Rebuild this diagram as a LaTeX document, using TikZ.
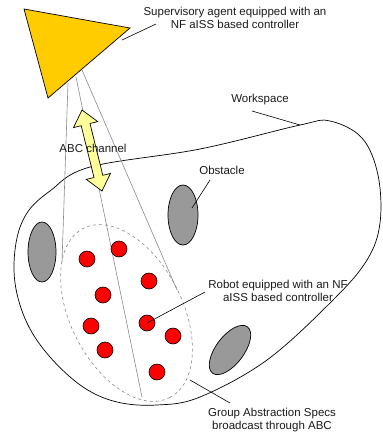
\documentclass[tikz,border=0pt]{standalone}
\usepackage{fontspec}
\setmainfont{Liberation Sans}
\definecolor{agentgold}{HTML}{FFCC00}
\definecolor{chanyellow}{HTML}{FFFF99}
\definecolor{obsgray}{HTML}{999999}
\definecolor{robred}{HTML}{FF0000}
\definecolor{linegray}{HTML}{8A8A8A}
\definecolor{txt}{HTML}{1A1A1A}
\begin{document}
\begin{tikzpicture}[x=1pt,y=-1pt,
  lbl/.style={text=txt,font=\fontsize{11.5}{13.5}\selectfont,align=center,inner sep=0pt},
  leader/.style={draw=black,line width=0.6pt},
  sight/.style={draw=linegray,line width=0.6pt},
  obstacle/.style={draw=black,fill=obsgray,line width=0.7pt},
  robot/.style={circle,draw=black,fill=robred,minimum size=16pt,inner sep=0pt,line width=0.6pt},
  group/.style={draw=linegray,dashed,line width=0.6pt},
  wsline/.style={draw=black,line width=0.7pt}]
\useasboundingbox (0,0) rectangle (383,437);

% workspace
\draw[wsline] plot[smooth cycle,tension=0.6] coordinates {
 (90,167) (200,149) (300,125) (330,121) (362,138) (378,175) (380,223)
 (367,260) (333,300) (267,360) (200,397) (157,405) (117,402) (83,387)
 (50,357) (27,323) (15,283) (16,243) (27,213) (50,191)};
\coordinate (wsPt) at (300,125);

% sight lines
\coordinate (s1a) at (68,83);  \coordinate (s1b) at (62,262);
\coordinate (s2a) at (76,77);  \coordinate (s2b) at (142,397);
\coordinate (s3a) at (82,70);  \coordinate (s3b) at (177,290);
\draw[sight] (s1a) -- (s1b);
\draw[sight] (s2a) -- (s2b);
\draw[sight] (s3a) -- (s3b);

% group dashed ellipse
\coordinate (grpC) at (126.5,313);
\draw[group] (grpC) ellipse[x radius=95pt,y radius=56pt,rotate=-63];
\coordinate (grpPt) at (190,380);

% obstacles
\coordinate (ob1) at (183,215);
\coordinate (ob2) at (42,252);
\coordinate (ob3) at (230,350);
\draw[obstacle] (ob1) ellipse[x radius=15pt,y radius=30pt];
\draw[obstacle] (ob2) ellipse[x radius=14pt,y radius=30pt];
\draw[obstacle] (ob3) ellipse[x radius=29pt,y radius=14pt,rotate=53];
\coordinate (obPt) at (192,208);

% robots
\node[robot] (r1) at (87,259) {};
\node[robot] (r2) at (119,249) {};
\node[robot] (r3) at (149,281) {};
\node[robot] (r4) at (103,295) {};
\node[robot] (r5) at (91,326) {};
\node[robot] (r6) at (147,323) {};
\node[robot] (r7) at (173,336) {};
\node[robot] (r8) at (105,350) {};
\node[robot] (r9) at (157,372) {};

% supervisory agent
\coordinate (t1) at (24,9);
\coordinate (t2) at (130,28);
\coordinate (t3) at (48,98);
\draw[fill=agentgold,line width=0.7pt] (t1) -- (t2) -- (t3) -- cycle;
\coordinate (agPt) at (122,40);

% ABC channel double arrow
\draw[fill=chanyellow,line width=0.7pt,line join=miter]
 (82,110) -- (97.7,121.6) -- (90.0,123.5) -- (102.8,175.3) -- (110.5,173.4)
 -- (102,191) -- (86.3,179.4) -- (94.0,177.5) -- (81.2,125.7) -- (73.5,127.6) -- cycle;

% labels
\node[lbl] (agLbl) at (235,18) {Supervisory agent equipped with an\\NF aISS based controller};
\node[lbl] (wsLbl) at (260,100) {Workspace};
\node[lbl] (chLbl) at (93,148) {ABC channel};
\node[lbl] (obLbl) at (222,170) {Obstacle};
\node[lbl] (rbLbl) at (278,291) {Robot equipped with an NF\\aISS based controller};
\node[lbl] (grLbl) at (272,420) {Group Abstraction Specs\\broadcast through ABC};

% leaders
\coordinate (agEnd) at (156,24);
\coordinate (wsEnd) at (252,111);
\coordinate (obEnd) at (210,180);
\coordinate (rbEnd) at (205,292);
\coordinate (grEnd) at (230,403);
\draw[leader] (agPt) -- (agEnd);
\draw[leader] (wsEnd) -- (wsPt);
\draw[leader] (obEnd) -- (obPt);
\draw[leader] (r6.center) -- (rbEnd);
\draw[leader] (grpPt) -- (grEnd);
\end{tikzpicture}
\end{document}
